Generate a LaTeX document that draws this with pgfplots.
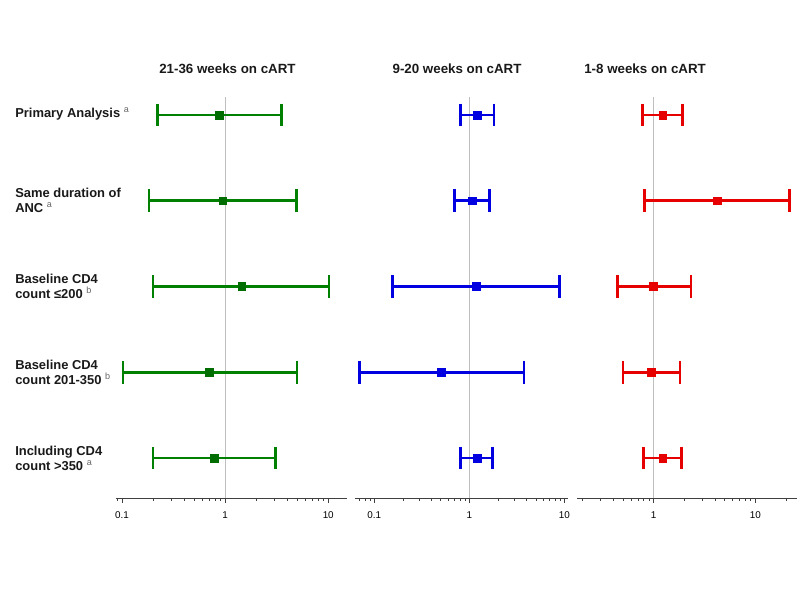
\documentclass[border=0pt]{standalone}
\usepackage{pgfplots}
\pgfplotsset{compat=1.18}
\usepackage{fontspec}
\setmainfont{Liberation Sans}
\definecolor{cgreen}{RGB}{0,128,0}
\definecolor{cblue}{RGB}{0,0,225}
\definecolor{cred}{RGB}{230,0,0}
\definecolor{cgray}{RGB}{190,190,190}
\pgfplotsset{
  panelax/.style={
    scale only axis, height=300.75pt,
    ymin=0.79, ymax=5.466, y dir=reverse,
    axis x line*=bottom, axis y line=none,
    axis line style={black!75, line width=0.5pt},
    tick style={black!75, line width=0.45pt},
    tick align=outside, major tick length=3.5pt, minor tick length=2.2pt,
    xticklabel style={font=\fontsize{7.4}{8}\selectfont, yshift=-3.5pt},
    /pgf/number format/assume math mode=true,
    clip=false,
  },
  ciline/.style={line width=2pt, mark=|, mark size=8.5pt, mark options={line width=2pt}, unbounded coords=jump},
  estpt/.style={only marks, mark=square*, mark size=2.9pt},
}
\begin{document}
\begin{tikzpicture}
\path[use as bounding box] (0,0) rectangle (600pt,-450pt);
% panel 1
\begin{semilogxaxis}[panelax, at={(87pt,-373.5pt)}, anchor=south west, width=173.25pt,
  xmin=0.0875, xmax=15.2, xtick={0.1,1,10}, xticklabels={0.1,1,10},
  minor xtick={0.09,0.2,0.3,0.4,0.5,0.6,0.7,0.8,0.9,2,3,4,5,6,7,8,9}]
\addplot[cgray, line width=0.9pt] coordinates {(1,0.79) (1,5.466)};
\addplot[cgreen, ciline] table {
x y
0.222 1
3.50 1
nan nan
0.183 2
4.89 2
nan nan
0.20 3
10.2 3
nan nan
0.102 4
4.97 4
nan nan
0.20 5
3.06 5
};
\addplot[estpt, color=cgreen!85!black] table {
x y
0.875 1
0.95 2
1.45 3
0.70 4
0.78 5
};
\end{semilogxaxis}
% panel 2
\begin{semilogxaxis}[panelax, at={(266.25pt,-373.5pt)}, anchor=south west, width=159.75pt,
  xmin=0.0626, xmax=10.9, xtick={0.1,1,10}, xticklabels={0.1,1,10},
  minor xtick={0.07,0.08,0.09,0.2,0.3,0.4,0.5,0.6,0.7,0.8,0.9,2,3,4,5,6,7,8,9}]
\addplot[cgray, line width=0.9pt] coordinates {(1,0.79) (1,5.466)};
\addplot[cblue, ciline] table {
x y
0.80 1
1.82 1
nan nan
0.70 2
1.62 2
nan nan
0.156 3
8.86 3
nan nan
0.0695 4
3.74 4
nan nan
0.80 5
1.75 5
};
\addplot[estpt, color=cblue] table {
x y
1.21 1
1.08 2
1.19 3
0.51 4
1.20 5
};
\end{semilogxaxis}
% panel 3
\begin{semilogxaxis}[panelax, at={(432.75pt,-373.5pt)}, anchor=south west, width=165pt,
  xmin=0.1766, xmax=25.7, xtick={1,10}, xticklabels={1,10},
  minor xtick={0.2,0.3,0.4,0.5,0.6,0.7,0.8,0.9,2,3,4,5,6,7,8,9,20}]
\addplot[cgray, line width=0.9pt] coordinates {(1,0.79) (1,5.466)};
\addplot[cred, ciline] table {
x y
0.78 1
1.93 1
nan nan
0.82 2
21.6 2
nan nan
0.44 3
2.33 3
nan nan
0.50 4
1.82 4
nan nan
0.80 5
1.87 5
};
\addplot[estpt, color=cred] table {
x y
1.23 1
4.23 2
1.00 3
0.95 4
1.23 5
};
\end{semilogxaxis}
% titles
\begin{scope}[every node/.style={font=\fontsize{10}{12}\selectfont\bfseries, text=black!90}]
\node at (170.6pt,-51.2pt) {21-36 weeks on cART};
\node at (342.8pt,-51.2pt) {9-20 weeks on cART};
\node at (483.8pt,-51.2pt) {1-8 weeks on cART};
\end{scope}
% row labels
\begin{scope}[every node/.style={font=\fontsize{9.7}{11.3}\selectfont\bfseries, text=black!90, anchor=west, align=left, inner sep=0pt}]
\node at (11.25pt,-85.5pt) {Primary Analysis \textsuperscript{\mdseries\color{black!60}a}};
\node at (11.25pt,-150pt) {Same duration of\\ANC \textsuperscript{\mdseries\color{black!60}a}};
\node at (11.25pt,-214.5pt) {Baseline CD4\\count ≤200 \textsuperscript{\mdseries\color{black!60}b}};
\node at (11.25pt,-279pt) {Baseline CD4\\count 201-350 \textsuperscript{\mdseries\color{black!60}b}};
\node at (11.25pt,-343.5pt) {Including CD4\\count >350 \textsuperscript{\mdseries\color{black!60}a}};
\end{scope}
\end{tikzpicture}
\end{document}
